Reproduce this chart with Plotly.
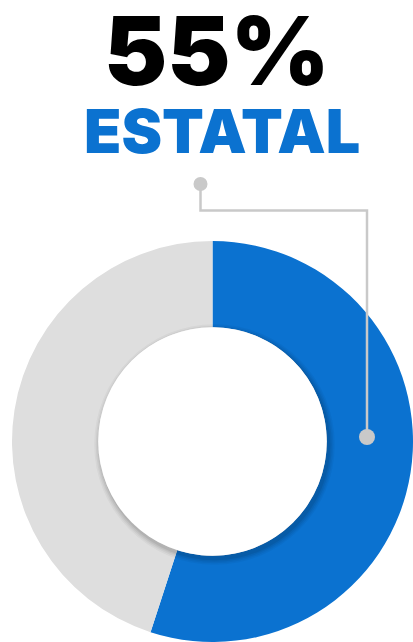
import plotly.graph_objects as go

# ---- data ----
labels = ["Estatal", "Otro"]
values = [55, 45]
headline = "55%"
category = "ESTATAL"

# ---- style ----
W, H = 413, 642
BLUE = "#0B72D0"
GREY = "#DEDEDE"
LINE = "#C9C9C9"

def px(x):
    return x / W

def py(y):
    return 1 - y / H

# pie placement (pixels)
left = 12
diam = W - left
cy = H - diam / 2
cx = left + diam / 2
hole = 0.57
r_h = hole * diam / 2

fig = go.Figure(go.Pie(
    labels=labels, values=values, sort=False, direction="clockwise", rotation=0,
    hole=hole, marker=dict(colors=[BLUE, GREY], line=dict(width=0)),
    textinfo="none", hoverinfo="skip", showlegend=False,
    domain=dict(x=[left / W, 1], y=[0, diam / H]),
))

shapes = []
# soft shadow around the hole
for k, op in [(6, 0.035), (4.5, 0.045), (3, 0.055), (1.5, 0.07)]:
    ox, oy = 2, 3
    shapes.append(dict(type="circle", xref="paper", yref="paper", layer="above",
                       x0=px(cx + ox - r_h - k), x1=px(cx + ox + r_h + k),
                       y0=py(cy + oy + r_h + k), y1=py(cy + oy - r_h - k),
                       fillcolor=f"rgba(0,0,0,{op})", line=dict(width=0)))
shapes.append(dict(type="circle", xref="paper", yref="paper", layer="above",
                   x0=px(cx - r_h), x1=px(cx + r_h), y0=py(cy + r_h), y1=py(cy - r_h),
                   fillcolor="white", line=dict(width=0)))
# leader line
pts = [(200.5, 184), (200.5, 210.5), (367, 210.5), (367, 437)]
path = "M " + " L ".join(f"{px(x)},{py(y)}" for x, y in pts)
shapes.append(dict(type="path", xref="paper", yref="paper", layer="above", path=path,
                   line=dict(color=LINE, width=2.5)))
for (x, y), r in [((200.5, 184), 7), ((367, 437), 8)]:
    shapes.append(dict(type="circle", xref="paper", yref="paper", layer="above",
                       x0=px(x - r), x1=px(x + r), y0=py(y + r), y1=py(y - r),
                       fillcolor=LINE, line=dict(width=0)))

annotations = [
    dict(text=headline, x=px(216.5), y=py(51), xref="paper", yref="paper",
         xanchor="center", yanchor="middle", showarrow=False,
         font=dict(family="Inter, Roboto, sans-serif", size=95, color="black", weight=900)),
    dict(text=category, x=px(221.5), y=py(131), xref="paper", yref="paper",
         xanchor="center", yanchor="middle", showarrow=False,
         font=dict(family="Inter, Roboto, sans-serif", size=61, color=BLUE, weight=900)),
]

fig.update_layout(width=W, height=H, margin=dict(l=0, r=0, t=0, b=0),
                  paper_bgcolor="white", plot_bgcolor="white",
                  shapes=shapes, annotations=annotations)
fig.write_html("out.html", config={"displayModeBar": False},
               post_script="document.body.style.margin='0';document.body.style.overflow='hidden';")
